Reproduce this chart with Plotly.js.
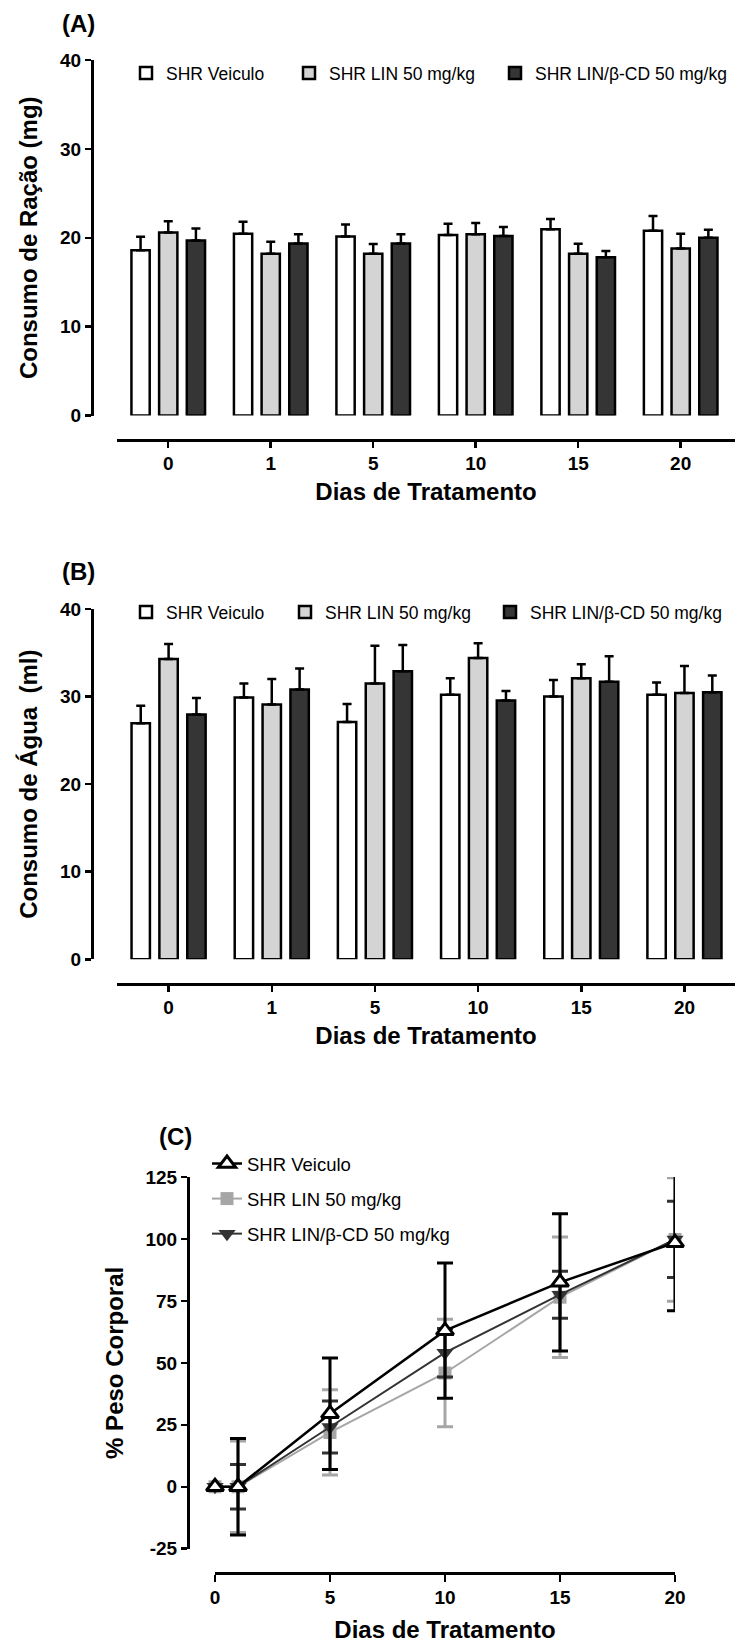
<!DOCTYPE html>
<html><head><meta charset="utf-8">
<script src="https://cdn.plot.ly/plotly-3.0.1.min.js"></script>
<style>html,body{margin:0;padding:0;background:#fff}#chart{width:735px;height:1643px}</style>
</head><body><div id="chart"></div>
<script>
// ---------- data ----------
const days = ['0', '1', '5', '10', '15', '20'];
const seriesNames = ['SHR Veiculo', 'SHR LIN 50 mg/kg', 'SHR LIN/β-CD 50 mg/kg'];

// (A) Consumo de Ração (mg)
const racaoVeiculo    = [18.6, 20.45, 20.15, 20.3, 20.95, 20.8];
const racaoVeiculoErr = [1.5, 1.35, 1.35, 1.27, 1.16, 1.65];
const racaoLin        = [20.6, 18.2, 18.2, 20.4, 18.2, 18.8];
const racaoLinErr     = [1.27, 1.35, 1.1, 1.27, 1.13, 1.65];
const racaoLinCd      = [19.7, 19.35, 19.35, 20.2, 17.8, 20.0];
const racaoLinCdErr   = [1.35, 1.05, 1.05, 1.0, 0.7, 0.9];

// (B) Consumo de Água (ml)
const aguaVeiculo    = [26.95, 29.9, 27.1, 30.2, 30.0, 30.2];
const aguaVeiculoErr = [2.0, 1.6, 2.05, 1.9, 1.9, 1.4];
const aguaLin        = [34.3, 29.1, 31.5, 34.4, 32.1, 30.4];
const aguaLinErr     = [1.7, 2.9, 4.3, 1.7, 1.6, 3.1];
const aguaLinCd      = [27.95, 30.8, 32.9, 29.55, 31.7, 30.5];
const aguaLinCdErr   = [1.9, 2.4, 3.0, 1.1, 2.9, 1.9];

// (C) % Peso Corporal
const diasC          = [0, 1, 5, 10, 15, 20];
const pesoVeiculo    = [0, 0, 29.5, 63, 82.5, 98.5];
const pesoVeiculoErr = [0, 19.5, 22.5, 27.3, 27.7, 27.5];
const pesoLin        = [0, 0, 21.9, 45.9, 76.5, 99.8];
const pesoLinErr     = [0, 18.5, 17.2, 21.7, 24.3, 24.9];
const pesoLinCd      = [0, 0, 24.1, 54.1, 77.5, 99.8];
const pesoLinCdErr   = [0, 9.0, 10.5, 9.8, 9.5, 15.4];
const yTicksC        = [-25, 0, 25, 50, 75, 100, 125];
const yTickTextC     = ['-25', '0', '25', '50', '75', '100', '125'];
const xTicksC        = [0, 5, 10, 15, 20];

// ---------- helpers ----------
const W = 735, H = 1643;
const fx = p => p / W;
const fy = p => 1 - p / H;
const FONT = "'Liberation Sans', Arial, Helvetica, sans-serif";
const tickFont = {family: FONT, size: 19, weight: 'bold', color: '#000'};
const titleFont = {family: FONT, size: 24, weight: 'bold', color: '#000'};
const barColors = ['#ffffff', '#d4d4d4', '#353535'];

function barTrace(name, y, err, color, xa, ya, leg) {
  return {
    type: 'bar', name: name, x: days, y: y, xaxis: xa, yaxis: ya, legend: leg,
    marker: {color: color, line: {color: '#000', width: 2.5}},
    error_y: {type: 'data', symmetric: false, array: err, arrayminus: err.map(() => 0),
              color: '#000', thickness: 2.5, width: 4.5},
    cliponaxis: false, hoverinfo: 'skip'
  };
}
function lineTrace(name, y, err, color, symbol, fill, lw, msize, lineW, rank, grp) {
  return {
    type: 'scatter', mode: 'lines+markers', name: name, x: diasC, y: y,
    xaxis: 'x3', yaxis: 'y3', legend: 'legend7', legendrank: rank, legendgroup: grp,
    line: {color: color, width: lineW},
    marker: {symbol: symbol, size: msize, color: fill, line: {color: color, width: lw}},
    error_y: {type: 'data', array: err, color: color, thickness: 3, width: 8},
    cliponaxis: false, hoverinfo: 'skip'
  };
}

const traces = [
  barTrace(seriesNames[0], racaoVeiculo, racaoVeiculoErr, barColors[0], 'x', 'y', 'legend'),
  barTrace(seriesNames[1], racaoLin, racaoLinErr, barColors[1], 'x', 'y', 'legend2'),
  barTrace(seriesNames[2], racaoLinCd, racaoLinCdErr, barColors[2], 'x', 'y', 'legend3'),
  barTrace(seriesNames[0], aguaVeiculo, aguaVeiculoErr, barColors[0], 'x2', 'y2', 'legend4'),
  barTrace(seriesNames[1], aguaLin, aguaLinErr, barColors[1], 'x2', 'y2', 'legend5'),
  barTrace(seriesNames[2], aguaLinCd, aguaLinCdErr, barColors[2], 'x2', 'y2', 'legend6'),
  lineTrace(seriesNames[1], pesoLin, pesoLinErr, '#a6a6a6', 'square', '#a6a6a6', 0, 13, 2, 2, 'g2'),
  lineTrace(seriesNames[2], pesoLinCd, pesoLinCdErr, '#333333', 'triangle-down', '#333333', 0, 15, 2, 3, 'g3'),
  lineTrace(seriesNames[0], pesoVeiculo, pesoVeiculoErr, '#000000', 'triangle-up', '#ffffff', 3, 15, 2.5, 1, 'g1')
];

function xAxisCat(y0px, range, title) {
  return {
    type: 'category', domain: [fx(117), 1], range: range, anchor: 'free', position: fy(y0px),
    showline: true, linewidth: 2.5, linecolor: '#000', ticks: 'outside', ticklen: 6,
    tickwidth: 2.5, tickcolor: '#000', tickfont: tickFont, showgrid: false, zeroline: false,
    title: {text: title, font: titleFont, standoff: 9}, fixedrange: true
  };
}
function yAxis(top, bottom, xpx, range, opts, title) {
  return Object.assign({
    domain: [fy(bottom), fy(top)], range: range, anchor: 'free', position: fx(xpx),
    showline: true, linewidth: 2.5, linecolor: '#000', ticks: 'outside', ticklen: 6,
    tickwidth: 2.5, tickcolor: '#000', tickfont: tickFont, showgrid: false, zeroline: false,
    title: {text: title, font: titleFont, standoff: 14}, fixedrange: true
  }, opts);
}
function legendAt(xpx, ypx) {
  return {
    x: fx(xpx), y: fy(ypx), xanchor: 'left', yanchor: 'middle', orientation: 'h',
    bgcolor: 'rgba(0,0,0,0)', borderwidth: 0,
    font: {family: FONT, size: 17.5, color: '#000'}
  };
}

const layout = {
  width: W, height: H, margin: {l: 0, r: 0, t: 0, b: 0},
  paper_bgcolor: '#ffffff', plot_bgcolor: 'rgba(0,0,0,0)',
  barmode: 'group', bargap: 0.19, bargroupgap: 0.34,
  showlegend: true,
  xaxis: xAxisCat(440, [-0.5, 5.53], 'Dias de Tratamento'),
  yaxis: yAxis(60, 415.5, 92, [0, 40], {dtick: 10, tick0: 0}, 'Consumo de Ração (mg)'),
  xaxis2: xAxisCat(984, [-0.5, 5.49], 'Dias de Tratamento'),
  yaxis2: yAxis(609, 959.3, 92, [0, 40], {dtick: 10, tick0: 0}, 'Consumo de Água  (ml)'),
  xaxis3: {
    domain: [fx(215), fx(675)], range: [0, 20], anchor: 'free', position: fy(1573),
    showline: true, linewidth: 2.5, linecolor: '#000', ticks: 'outside', ticklen: 7,
    tickwidth: 2.5, tickcolor: '#000', tickfont: tickFont, tickvals: xTicksC,
    showgrid: false, zeroline: false, fixedrange: true,
    title: {text: 'Dias de Tratamento', font: titleFont, standoff: 14}
  },
  yaxis3: yAxis(1177, 1548.7, 188, [-25, 125],
    {tickvals: yTicksC, ticktext: yTickTextC}, '% Peso Corporal'),
  legend:  legendAt(126, 73),
  legend2: legendAt(289, 73),
  legend3: legendAt(495, 73),
  legend4: legendAt(126, 612),
  legend5: legendAt(285, 612),
  legend6: legendAt(490, 612),
  legend7: {
    x: fx(207), y: fy(1145), xanchor: 'left', yanchor: 'top', orientation: 'v',
    bgcolor: 'rgba(0,0,0,0)', borderwidth: 0, tracegroupgap: 8,
    font: {family: FONT, size: 18.5, color: '#000'}
  },
  annotations: [
    {text: '(A)', xref: 'paper', yref: 'paper', x: fx(60), y: fy(23), xanchor: 'left', yanchor: 'middle', showarrow: false, font: titleFont},
    {text: '(B)', xref: 'paper', yref: 'paper', x: fx(60), y: fy(571), xanchor: 'left', yanchor: 'middle', showarrow: false, font: titleFont},
    {text: '(C)', xref: 'paper', yref: 'paper', x: fx(157), y: fy(1136), xanchor: 'left', yanchor: 'middle', showarrow: false, font: titleFont}
  ]
};

Plotly.newPlot('chart', traces, layout, {displayModeBar: false, staticPlot: true});
</script>
</body></html>
